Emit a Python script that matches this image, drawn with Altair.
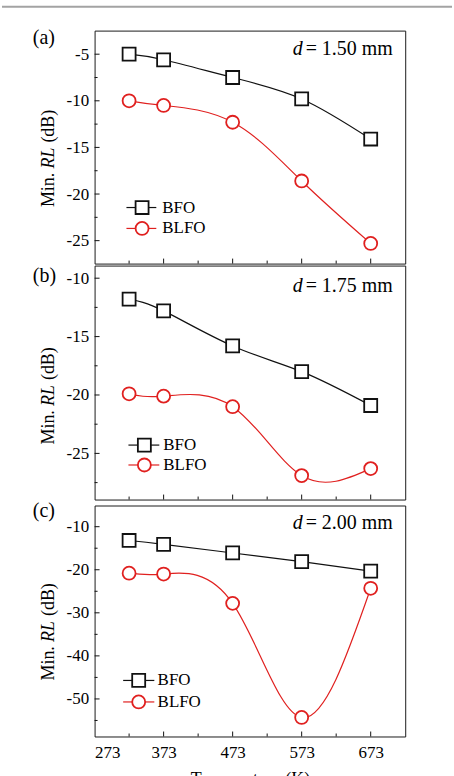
import altair as alt
import pandas as pd

# Minimum reflection loss vs. temperature for three absorber thicknesses
temps = [323, 373, 473, 573, 673]

bfo_150 = [-5.0, -5.6, -7.5, -9.8, -14.1]
blfo_150 = [-10.0, -10.5, -12.3, -18.6, -25.3]

bfo_175 = [-11.8, -12.8, -15.8, -18.0, -20.9]
blfo_175 = [-19.9, -20.1, -21.0, -26.9, -26.3]

bfo_200 = [-13.2, -14.1, -16.1, -18.1, -20.3]
blfo_200 = [-20.8, -21.0, -27.8, -54.3, -24.3]

series_names = ["BFO", "BLFO"]
panel_tags = ["(a)", "(b)", "(c)"]
thickness_text = ["= 1.50 mm", "= 1.75 mm", "= 2.00 mm"]

x_labels = [273, 373, 473, 573, 673]
x_major = [373, 473, 573, 673]
x_minor = [323, 423, 523, 623]

y_major_150 = [-5, -10, -15, -20, -25]
y_minor_150 = [-7.5, -12.5, -17.5, -22.5]
y_major_175 = [-10, -15, -20, -25]
y_minor_175 = [-12.5, -17.5, -22.5, -27.5]
y_major_200 = [-10, -20, -30, -40, -50]
y_minor_200 = [-15, -25, -35, -45, -55]

FONT = "Liberation Serif"
RED = "#e0201f"
BLACK = "#111111"
W = 312
X_DOMAIN = [273, 723]
MARK_SIZE = 170


def one_row():
    return alt.Chart(pd.DataFrame({"k": [0]}))


def panel(bfo, blfo, y_dom, y_major, y_minor, h, idx, lay, show_x):
    xscale = alt.Scale(domain=X_DOMAIN, nice=False, zero=False)
    yscale = alt.Scale(domain=y_dom, nice=False, zero=False)
    if show_x:
        xaxis = alt.Axis(values=x_labels, ticks=False, domain=False, grid=False,
                         labelPadding=8, labelFont=FONT, labelFontSize=17, labelColor="black",
                         title="Temperature (K)",
                         titleFont=FONT, titleFontSize=18, titleFontWeight="normal",
                         titlePadding=10, titleColor="black",
                         labelExpr="toString(datum.value)")
    else:
        xaxis = None
    yaxis = alt.Axis(values=y_major, ticks=False, domain=False, grid=False,
                     labelPadding=6, labelFont=FONT, labelFontSize=17, labelColor="black",
                     title=None, labelExpr="toString(datum.value)")

    df = pd.DataFrame({
        "T": temps * 2,
        "RL": bfo + blfo,
        "s": [series_names[0]] * len(temps) + [series_names[1]] * len(temps),
    })
    x_enc = alt.X("T:Q", scale=xscale, axis=xaxis)
    y_enc = alt.Y("RL:Q", scale=yscale, axis=yaxis)

    layers = []
    for name, col in zip(series_names, [BLACK, RED]):
        sub = alt.Chart(df).transform_filter(alt.datum.s == name)
        layers.append(sub.mark_line(interpolate="natural", color=col, strokeWidth=1.2)
                      .encode(x=x_enc, y=y_enc))
    # markers
    layers.append(alt.Chart(df).transform_filter(alt.datum.s == "BFO")
                  .mark_point(shape="square", filled=True, fill="white", stroke=BLACK,
                              strokeWidth=1.8, size=MARK_SIZE, opacity=1)
                  .encode(x=x_enc, y=y_enc))
    layers.append(alt.Chart(df).transform_filter(alt.datum.s == "BLFO")
                  .mark_point(shape="circle", filled=True, fill="white", stroke=RED,
                              strokeWidth=1.8, size=MARK_SIZE, opacity=1)
                  .encode(x=x_enc, y=y_enc))

    # inward ticks
    ymaj_df = pd.DataFrame({"RL": y_major})
    ymin_df = pd.DataFrame({"RL": y_minor})
    layers.append(alt.Chart(ymaj_df).mark_rule(color=BLACK, strokeWidth=1)
                  .encode(y=y_enc, x=alt.value(0), x2=alt.value(5)))
    layers.append(alt.Chart(ymin_df).mark_rule(color=BLACK, strokeWidth=1)
                  .encode(y=y_enc, x=alt.value(0), x2=alt.value(3)))
    xmaj_df = pd.DataFrame({"T": x_major})
    xmin_df = pd.DataFrame({"T": x_minor})
    layers.append(alt.Chart(xmaj_df).mark_rule(color=BLACK, strokeWidth=1)
                  .encode(x=x_enc, y=alt.value(h), y2=alt.value(h - 5)))
    layers.append(alt.Chart(xmin_df).mark_rule(color=BLACK, strokeWidth=1)
                  .encode(x=x_enc, y=alt.value(h), y2=alt.value(h - 3)))

    # legend
    for name, col, shape, ly in zip(series_names, [BLACK, RED], ["square", "circle"], lay["leg_y"]):
        layers.append(one_row().mark_rule(color=col, strokeWidth=1.2)
                      .encode(x=alt.value(lay["leg_x0"]), x2=alt.value(lay["leg_x1"]), y=alt.value(ly)))
        layers.append(one_row().mark_point(shape=shape, filled=True, fill="white", stroke=col,
                                           strokeWidth=1.8, size=MARK_SIZE, opacity=1)
                      .encode(x=alt.value(lay["leg_m"]), y=alt.value(ly)))
        layers.append(one_row().mark_text(font=FONT, fontSize=17, align="left", baseline="middle",
                                          color="black")
                      .encode(x=alt.value(lay["leg_t"]), y=alt.value(ly), text=alt.value(name)))

    # thickness annotation
    layers.append(one_row().mark_text(font=FONT, fontSize=20, fontStyle="italic", align="left",
                                      baseline="alphabetic", color="black")
                  .encode(x=alt.value(199), y=alt.value(lay["ann_y"]), text=alt.value("d")))
    layers.append(one_row().mark_text(font=FONT, fontSize=20, align="left",
                                      baseline="alphabetic", color="black")
                  .encode(x=alt.value(212), y=alt.value(lay["ann_y"]), text=alt.value(thickness_text[idx])))

    # panel tag
    layers.append(one_row().mark_text(font=FONT, fontSize=20, align="left",
                                      baseline="alphabetic", color="black")
                  .encode(x=alt.value(-62), y=alt.value(lay["tag_y"]), text=alt.value(panel_tags[idx])))

    # y-axis title with italic RL
    c = lay["title_c"]
    for txt, yy, style in [("Min.", c + 31.5, "normal"), ("RL", c - 0.5, "italic"), ("(dB)", c - 32.5, "normal")]:
        layers.append(one_row().mark_text(font=FONT, fontSize=18, fontStyle=style, angle=270,
                                          align="center", baseline="alphabetic", color="black")
                      .encode(x=alt.value(-41), y=alt.value(yy), text=alt.value(txt)))

    if idx == 0:
        # grey rule running across the top of the figure
        layers.append(one_row().mark_rule(color="#a3a3a3", strokeWidth=2)
                      .encode(x=alt.value(-93), x2=alt.value(359), y=alt.value(-24)))

    return alt.layer(*layers).properties(width=W, height=h)


pa = panel(bfo_150, blfo_150, [-27.46, -2.47], y_major_150, y_minor_150, 234, 0,
           dict(leg_y=[177.7, 198.7], leg_x0=32, leg_x1=62, leg_m=47.7, leg_t=68,
                ann_y=25, tag_y=13.5, title_c=128.5), False)
pb = panel(bfo_175, blfo_175, [-28.95, -8.92], y_major_175, y_minor_175, 235, 1,
           dict(leg_y=[180.3, 200.3], leg_x0=34, leg_x1=65, leg_m=50, leg_t=69,
                ann_y=27, tag_y=16.5, title_c=131), False)
pc = panel(bfo_200, blfo_200, [-58.72, -5.08], y_major_200, y_minor_200, 232, 2,
           dict(leg_y=[175.7, 197.3], leg_x0=28.7, leg_x1=60, leg_m=44.3, leg_t=63.3,
                ann_y=24, tag_y=12, title_c=127), True)

chart = (
    alt.vconcat(pa, pb, pc, spacing=0)
    .properties(padding={"left": 0, "top": 3, "right": 0, "bottom": 0}, background="white")
    .configure_view(stroke="#1a1a1a", strokeWidth=1)
    .configure_axis(labelFont=FONT, labelFontSize=17, labelColor="black")
)

chart.save("out.html", embed_options={"renderer": "svg", "actions": False})
